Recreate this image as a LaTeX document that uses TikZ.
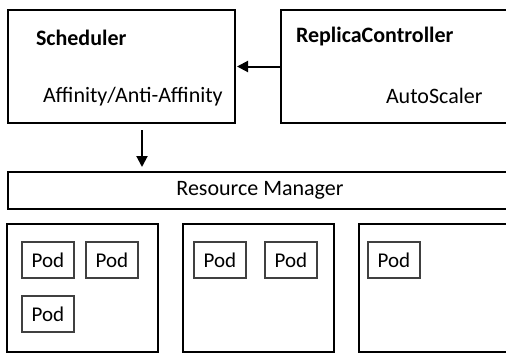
\documentclass[tikz,border=0pt]{standalone}
\usepackage{fontspec}
\setmainfont{Carlito}
\usetikzlibrary{arrows.meta}

\begin{document}
\begin{tikzpicture}
[x=1pt,y=-1pt,
 every node/.style={inner sep=0pt,outer sep=0pt,font=\fontsize{22}{26}\selectfont},
 box/.style={draw=black,line width=2.4pt,anchor=north west},
 pod/.style={draw=black!75,line width=1.3pt,minimum width=52pt,minimum height=36pt,anchor=north west,font=\fontsize{21}{25}\selectfont},
 title/.style={anchor=west,font=\fontsize{22}{26}\selectfont\bfseries},
 txt/.style={anchor=west},
 arr/.style={-{Triangle[length=11pt,width=11pt]},line width=2pt}]
\clip (0,0) rectangle (506,354);

\node[box,minimum width=227pt,minimum height=113pt] (sched) at (8,10)   {};
\node[box,minimum width=240pt,minimum height=113pt] (rc)    at (281,10) {};
\node[title] (schedT) at (36,38)  {Scheduler};
\node[txt]   (affT)   at (43,97)  {Affinity/Anti-Affinity};
\node[title] (rcT)    at (296,37) {ReplicaController};
\node[txt]   (asT)    at (386,96) {AutoScaler};

\node[box,minimum width=504pt,minimum height=37pt] (rm) at (8,172) {Resource Manager};

\node[box,minimum width=151pt,minimum height=128pt] (n1) at (7,224)   {};
\node[box,minimum width=151pt,minimum height=128pt] (n2) at (183,224) {};
\node[box,minimum width=160pt,minimum height=128pt] (n3) at (359,224) {};

\node[pod] (p1) at (22,242)  {Pod};
\node[pod] (p2) at (86,242)  {Pod};
\node[pod] (p3) at (22,296)  {Pod};
\node[pod] (p4) at (194,242) {Pod};
\node[pod] (p5) at (265,242) {Pod};
\node[pod] (p6) at (368,242) {Pod};

\draw[arr,shorten >=2pt] (rc.west) -- (sched.east);
\draw[arr,shorten <=7pt,shorten >=5pt] ([xshift=20.5pt]sched.south) -- ([xshift=20.5pt]sched.south |- rm.north);
\end{tikzpicture}
\end{document}
